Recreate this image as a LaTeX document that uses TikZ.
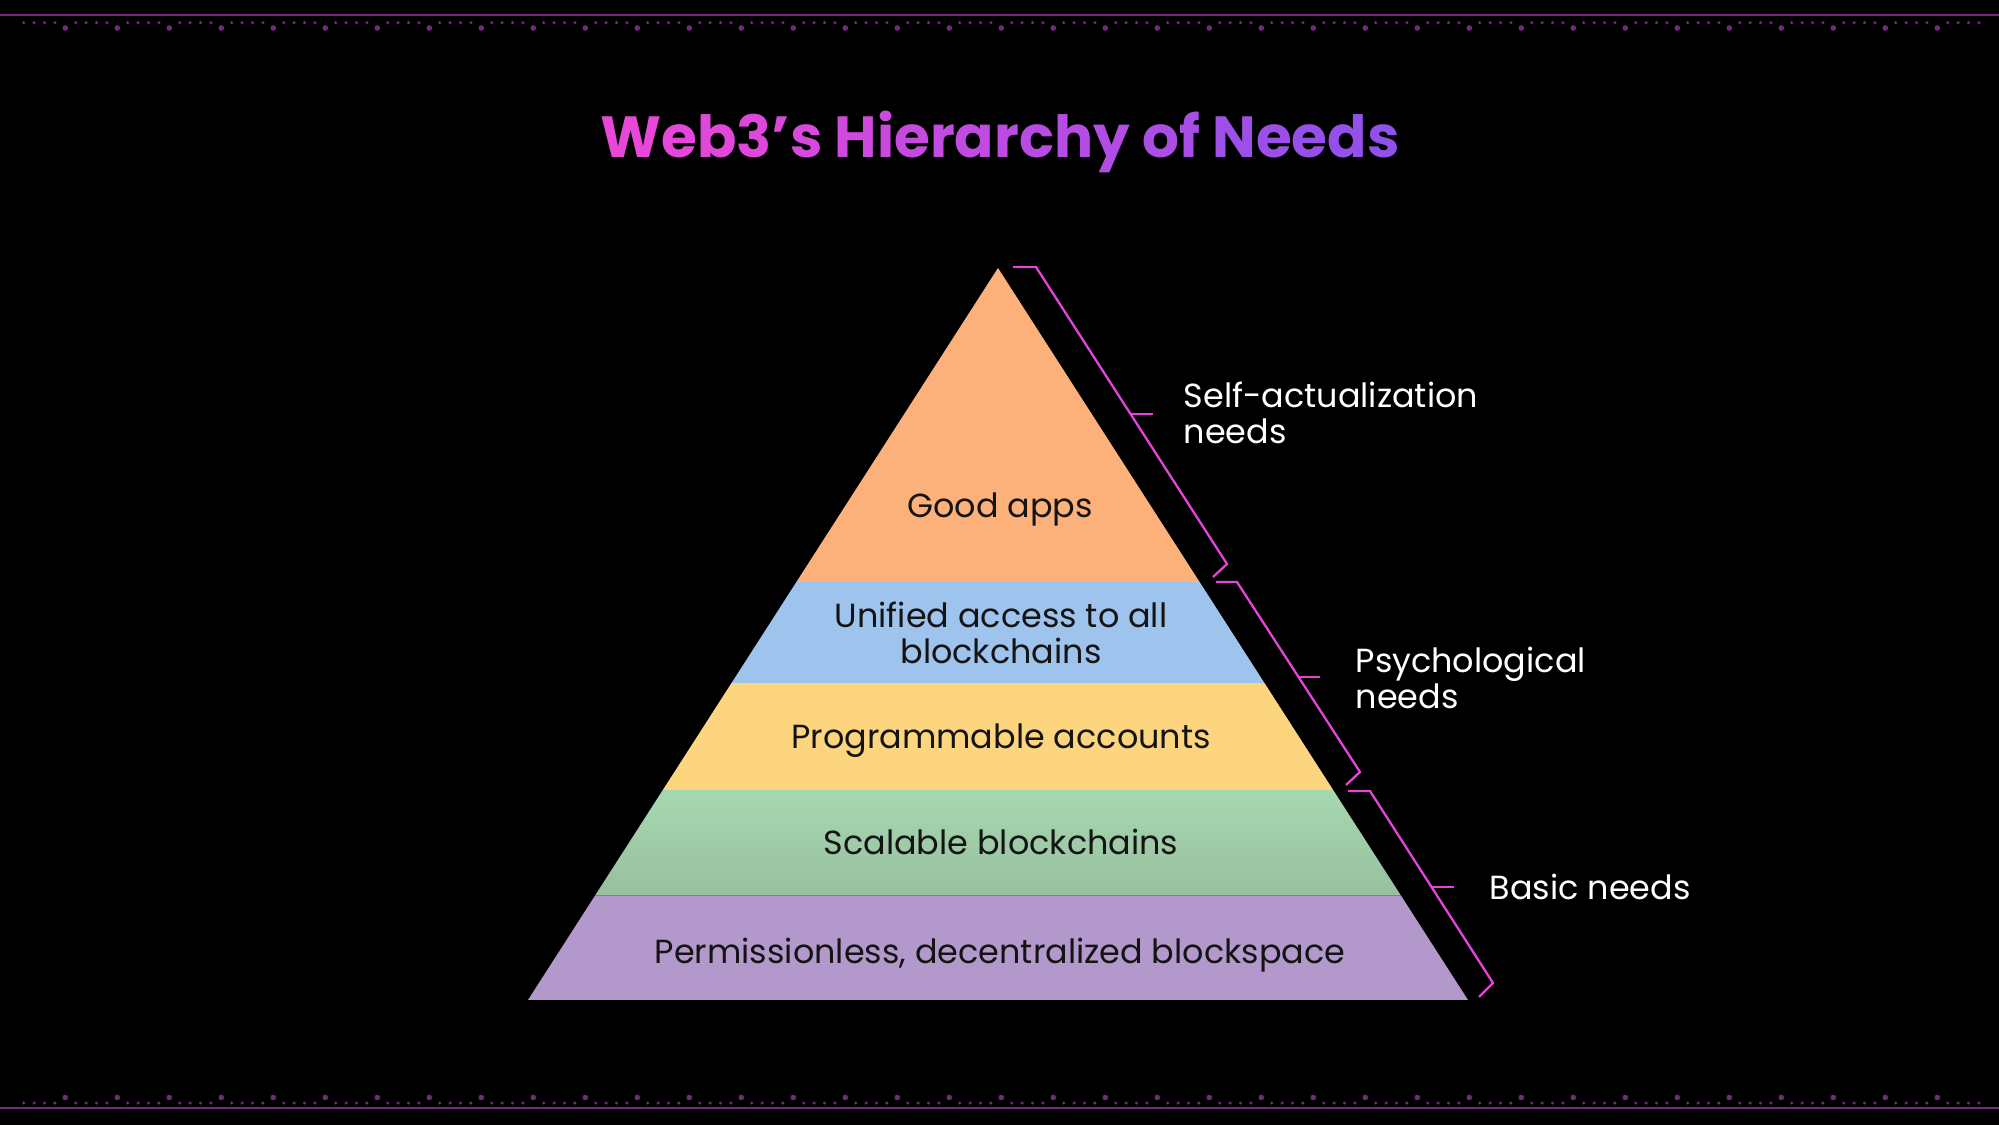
\documentclass[tikz,border=0pt]{standalone}
\usepackage{fontspec}
\setmainfont{Poppins}
\usetikzlibrary{calc}

\definecolor{borderpurple}{HTML}{74287E}
\definecolor{titlepink}{HTML}{E947D8}
\definecolor{titleviolet}{HTML}{9050EA}
\definecolor{bracepink}{HTML}{E544D9}
\definecolor{goodorange}{HTML}{FDB17A}
\definecolor{uniblue}{HTML}{9EC3EC}
\definecolor{progyellow}{HTML}{FDD57F}
\definecolor{scalgreentop}{HTML}{A6D8B0}
\definecolor{scalgreenbot}{HTML}{98BF9F}
\definecolor{permpurple}{HTML}{B399CB}

% title coloured letter by letter, pink to violet
\newcount\titlek
\makeatletter
\newcommand\gradtitle[1]{%
  \titlek=0
  \@tfor\gradchar:=#1\do{%
    \pgfmathtruncatemacro\gradpct{100-100*\titlek/24}%
    \textcolor{titlepink!\gradpct!titleviolet}{\gradchar}%
    \global\advance\titlek by 1\relax}}
\makeatother

\begin{document}
\begin{tikzpicture}[x=0.01cm,y=-0.01cm,
  layertext/.style={text=black!92,font=\fontsize{9.5}{10.44}\selectfont,align=center},
  needtext/.style={text=white,font=\fontsize{9.5}{10.44}\selectfont,align=left,inner sep=0pt},
  needbrace/.style={draw=bracepink,line width=0.65pt,line join=miter},
  goodlayer/.style={fill=goodorange},
  unilayer/.style={fill=uniblue},
  proglayer/.style={fill=progyellow},
  scallayer/.style={top color=scalgreentop,bottom color=scalgreenbot},
  permlayer/.style={fill=permpurple}]
  % fondo
  \fill[black] (0,0) rectangle (1999,1125);
  \useasboundingbox (0,0) rectangle (1999,1125);
  % dotted borders, top and bottom
  \draw[borderpurple,line width=0.37pt] (0,15) -- (1999,15);
  \draw[borderpurple,line width=0.37pt] (0,1108) -- (1999,1108);
  \foreach \k in {0,...,37} \foreach \j in {0,...,3} {
    \fill[borderpurple] (23.7+52*\k+10.4*\j,22.7) circle[radius=0.017cm];
    \fill[borderpurple] (23.7+52*\k+10.4*\j,1103) circle[radius=0.017cm];
  }
  \foreach \k in {0,...,36} {
    \fill[borderpurple] (65.3+52*\k,28) circle[radius=0.028cm];
    \fill[borderpurple] (65.3+52*\k,1097.5) circle[radius=0.028cm];
  }
  % title
  \node[anchor=base,font=\fontsize{16.5}{18}\selectfont\bfseries] (title) at (1000,158)
    {\gradtitle{Web3’s~Hierarchy~of~Needs}};
  % pyramid
  \coordinate (apex) at (998,268); \coordinate (bl) at (528,1000); \coordinate (br) at (1468,1000);
  \foreach \ta/\tb/\lay in {0/.429/goodlayer,.429/.567/unilayer,.567/.713/proglayer,.713/.857/scallayer,.857/1/permlayer}
    \path[\lay] ($(apex)!\ta!(bl)$) -- ($(apex)!\ta!(br)$) -- ($(apex)!\tb!(br)$) -- ($(apex)!\tb!(bl)$) -- cycle;
  \node[layertext,anchor=base] (good) at (1000,518) {Good apps};
  \node[layertext] (unified) at (1001,633) {Unified access to all\\blockchains};
  \node[layertext,anchor=base] (prog) at (1001,749) {Programmable accounts};
  \node[layertext,anchor=base] (scal) at (1001,855) {Scalable blockchains};
  \node[layertext,anchor=base] (perm) at (1000,964) {Permissionless, decentralized blockspace};
  % brackets and needs
  \draw[needbrace] (1013,267) -- (1036,267) -- (1227,564) -- (1213,577); \draw[needbrace] (1131,414) -- (1153,414);
  \draw[needbrace] (1216,582) -- (1237,582) -- (1360,772) -- (1346,785); \draw[needbrace] (1299,677) -- (1320,677);
  \draw[needbrace] (1348,791) -- (1370,791) -- (1493,983) -- (1479,997); \draw[needbrace] (1432,887) -- (1454,887);
  \node[needtext,anchor=west] (selfact) at (1183,413) {Self-actualization\\needs};
  \node[needtext,anchor=west] (psych) at (1355,678) {Psychological\\needs};
  \node[needtext,anchor=base west] (basic) at (1489,900) {Basic needs};
\end{tikzpicture}
\end{document}
